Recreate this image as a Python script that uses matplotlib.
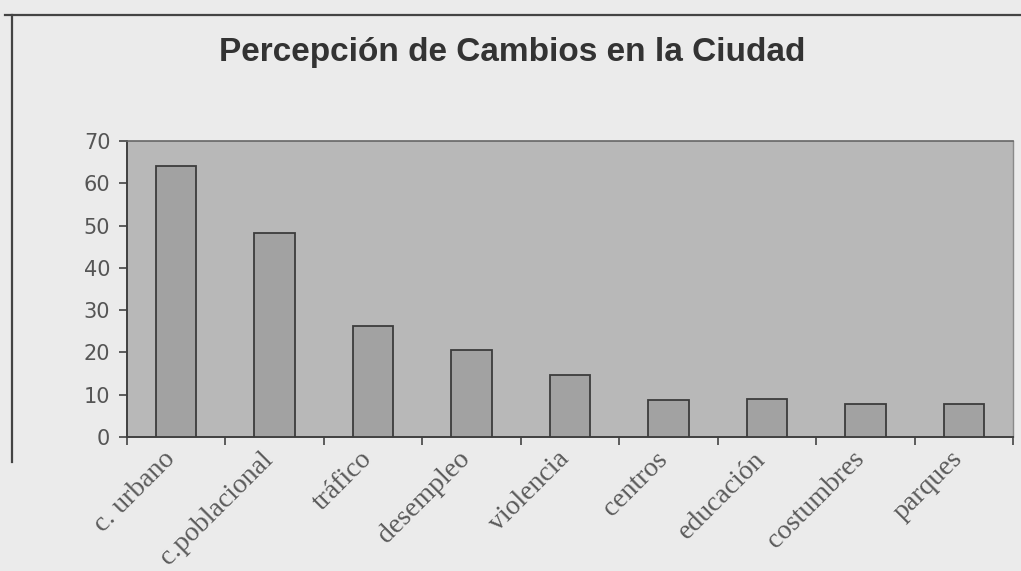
import numpy as np
import matplotlib.pyplot as plt
from matplotlib.lines import Line2D

categories = ["c. urbano", "c.poblacional", "tráfico", "desempleo", "violencia",
              "centros", "educación", "costumbres", "parques"]
values = [64, 48.3, 26.3, 20.6, 14.7, 8.8, 9.1, 7.8, 7.8]
yticks = [0, 10, 20, 30, 40, 50, 60, 70]

fig = plt.figure(figsize=(10.21, 5.71), dpi=100)
fig.patch.set_facecolor("#ebebeb")

ax = fig.add_axes([127 / 1021, 1 - 437 / 571, 886 / 1021, 296 / 571])
ax.set_facecolor("#b8b8b8")

x = np.arange(len(categories))
ax.bar(x, values, width=0.41, color="#a2a2a2", edgecolor="#3c3c3c", linewidth=1.3, zorder=3)

ax.set_xlim(-0.5, len(categories) - 0.5)
ax.set_ylim(0, 70)
ax.set_yticks(yticks)
ax.set_yticklabels([str(v) for v in yticks], fontsize=15, color="#555555", family="DejaVu Sans")
ax.tick_params(axis="y", direction="out", length=6, width=1.2, color="#444444", pad=6)

# ticks at category boundaries, labels near centres (nudged left like the original)
ax.set_xticks(np.arange(-0.5, len(categories)), labels=[""] * (len(categories) + 1))
ax.tick_params(axis="x", which="major", direction="out", length=6, width=1.2, color="#444444")
ax.set_xticks(x - 0.14, minor=True)
ax.set_xticklabels(categories, minor=True, rotation=45, ha="right", va="top",
                   rotation_mode="anchor", fontsize=20, color="#5a5a5a", family="Liberation Serif")
ax.tick_params(axis="x", which="minor", length=0, pad=7)

for s in ["left", "bottom"]:
    ax.spines[s].set_color("#404040")
    ax.spines[s].set_linewidth(1.4)
ax.spines["top"].set_color("#666666")
ax.spines["top"].set_linewidth(1.2)
ax.spines["right"].set_color("#8a8a8a")
ax.spines["right"].set_linewidth(1.0)

fig.text(512 / 1021, 1 - 52 / 571, "Percepción de Cambios en la Ciudad", ha="center", va="center",
         fontsize=24, fontweight="bold", color="#333333", family="Liberation Sans")

# scanned frame edges
fig.add_artist(Line2D([0.005, 1.0], [1 - 15 / 571, 1 - 15 / 571], color="#444444", lw=1.6))
fig.add_artist(Line2D([12 / 1021, 12 / 1021], [1 - 462 / 571, 1 - 15 / 571], color="#444444", lw=1.6))

fig.savefig("out.png", dpi=100, facecolor=fig.get_facecolor())
